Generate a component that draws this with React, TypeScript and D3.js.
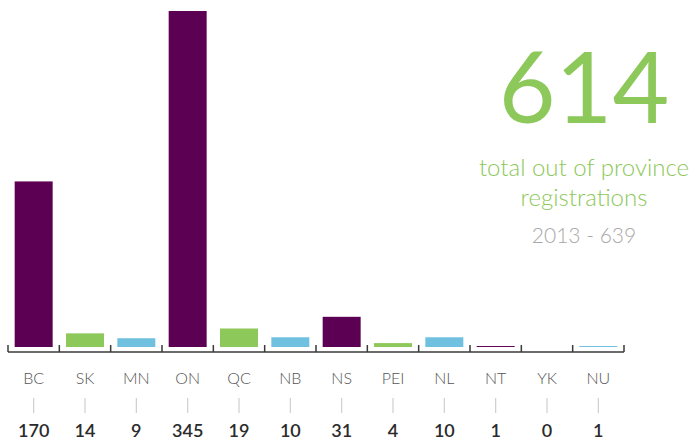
import React, { useEffect, useRef } from 'react';
import { select, scaleBand, scaleLinear } from 'd3';

const provinces = ['BC', 'SK', 'MN', 'ON', 'QC', 'NB', 'NS', 'PEI', 'NL', 'NT', 'YK', 'NU'];
const registrations = [170, 14, 9, 345, 19, 10, 31, 4, 10, 1, 0, 1];
const barColors = ['#5b0052', '#8cc85a', '#70c1e0', '#5b0052', '#8cc85a', '#70c1e0', '#5b0052', '#8cc85a', '#70c1e0', '#5b0052', '#8cc85a', '#70c1e0'];
const totalLabel = '614';
const subtitleLines = ['total out of province', 'registrations'];
const previousLabel = '2013 - 639';

const App = () => {
  const svgRef = useRef(null);

  useEffect(() => {
    const svg = select(svgRef.current);
    svg.selectAll('*').remove();

    const font = 'Lato, "Open Sans", sans-serif';
    const axisY = 352;

    const x = scaleBand()
      .domain(provinces)
      .range([8, 624])
      .paddingInner(0.26)
      .paddingOuter(0.13);
    const step = x.step();

    const y = scaleLinear()
      .domain([0, 345])
      .range([347, 11]);

    const data = provinces.map((p, i) => ({ name: p, value: registrations[i], color: barColors[i] }));

    svg
      .selectAll('rect.bar')
      .data(data)
      .enter()
      .append('rect')
      .attr('class', 'bar')
      .attr('x', (d) => x(d.name))
      .attr('width', x.bandwidth())
      .attr('y', (d) => y(d.value))
      .attr('height', (d) => y(0) - y(d.value))
      .attr('fill', (d) => d.color);

    // axis baseline with upward ticks at band edges
    const axis = svg.append('g').attr('stroke', '#3a3a3a').attr('stroke-width', 1.5);
    axis.append('line').attr('x1', 8).attr('x2', 624).attr('y1', axisY).attr('y2', axisY);
    provinces.concat(['end']).forEach((p, i) => {
      const tx = 8 + i * step;
      axis.append('line').attr('x1', tx).attr('x2', tx).attr('y1', axisY - 7).attr('y2', axisY);
    });

    const center = (d) => x(d.name) + x.bandwidth() / 2;

    svg
      .selectAll('text.cat')
      .data(data)
      .enter()
      .append('text')
      .attr('class', 'cat')
      .attr('x', center)
      .attr('y', 384)
      .attr('text-anchor', 'middle')
      .attr('font-family', font)
      .attr('font-weight', 300)
      .attr('font-size', 16)
      .attr('fill', '#555')
      .text((d) => d.name);

    svg
      .selectAll('line.sep')
      .data(data)
      .enter()
      .append('line')
      .attr('class', 'sep')
      .attr('x1', center)
      .attr('x2', center)
      .attr('y1', 398)
      .attr('y2', 413)
      .attr('stroke', '#cfcfcf')
      .attr('stroke-width', 1.2);

    svg
      .selectAll('text.val')
      .data(data)
      .enter()
      .append('text')
      .attr('class', 'val')
      .attr('x', center)
      .attr('y', 437)
      .attr('text-anchor', 'middle')
      .attr('font-family', font)
      .attr('font-weight', 600)
      .attr('font-size', 18)
      .attr('fill', '#2b2b2b')
      .text((d) => d.value);

    const cx = 584;
    svg
      .append('text')
      .attr('x', cx)
      .attr('y', 123)
      .attr('text-anchor', 'middle')
      .attr('font-family', font)
      .attr('font-weight', 400)
      .attr('font-size', 98)
      .attr('fill', '#8cc85a')
      .text(totalLabel);

    subtitleLines.forEach((t, i) => {
      svg
        .append('text')
        .attr('x', cx)
        .attr('y', 176 + i * 30)
        .attr('text-anchor', 'middle')
        .attr('font-family', font)
        .attr('font-weight', 300)
        .attr('font-size', 24)
        .attr('fill', '#8cc85a')
        .text(t);
    });

    svg
      .append('text')
      .attr('x', cx)
      .attr('y', 243)
      .attr('text-anchor', 'middle')
      .attr('font-family', font)
      .attr('font-weight', 300)
      .attr('font-size', 21)
      .attr('fill', '#a8a8a8')
      .text(previousLabel);
  }, []);

  return (
    <svg
      ref={svgRef}
      width={692}
      height={443}
      style={{ position: 'absolute', left: 0, top: 0, background: '#fff' }}
    />
  );
};

export default App;
